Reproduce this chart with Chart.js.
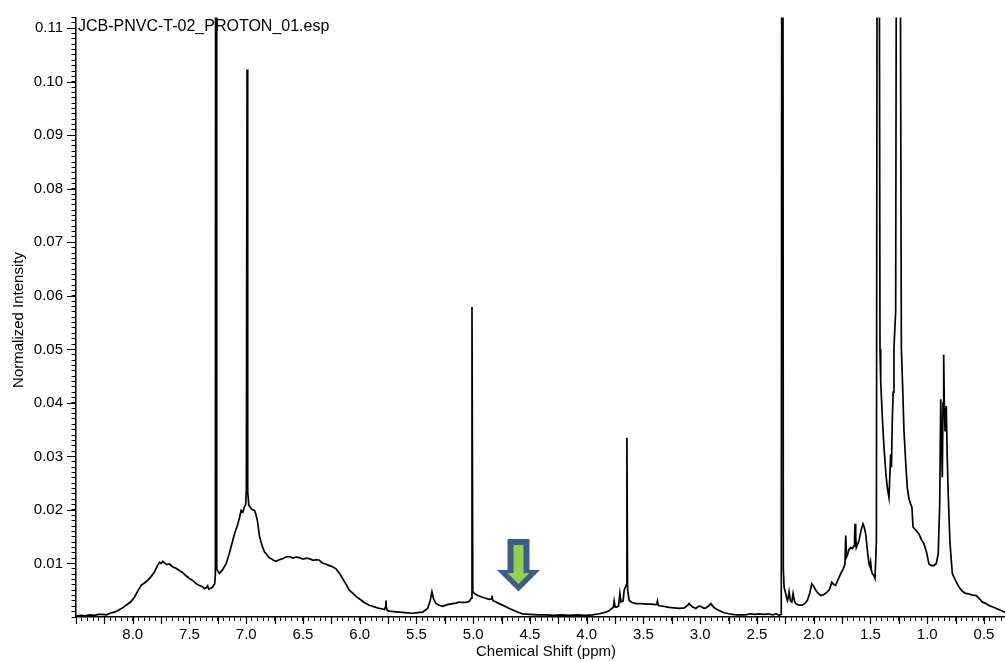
<!DOCTYPE html>
<html>
<head>
<meta charset="utf-8">
<title>JCB-PNVC-T-02_PROTON_01</title>
<script src="https://cdn.jsdelivr.net/npm/chart.js@4.4.1/dist/chart.umd.min.js"></script>
<style>
    html, body { margin: 0; padding: 0; background: #fff; }
    #wrap { width: 1006px; height: 662px; position: relative; }
</style>
</head>
<body>
<div id="wrap"><canvas id="spectrum"></canvas></div>
<script>
// 1H spectrum: chemical shift (ppm) and normalized intensity, one row per stretch
const shiftPpm = [
    8.498, 8.450, 8.420, 8.380, 8.340, 8.300, 8.267, 8.230, 8.200, 8.161,
    8.140, 8.117, 8.090, 8.058, 8.020, 7.985, 7.960, 7.926, 7.900, 7.871,
    7.840, 7.809, 7.785, 7.765, 7.750, 7.736, 7.720,
    7.700, 7.677, 7.650, 7.620, 7.589, 7.560, 7.530, 7.501, 7.470, 7.440,
    7.413, 7.390, 7.369, 7.350, 7.340, 7.330, 7.310, 7.296, 7.278, 7.272,
    7.266, 7.260, 7.251, 7.237,
    7.210, 7.178, 7.150, 7.119, 7.100, 7.078, 7.060, 7.045, 7.030, 7.016,
    7.005, 6.999, 6.993, 6.987, 6.978, 6.965, 6.950, 6.928, 6.915, 6.902,
    6.884, 6.870, 6.855, 6.840, 6.825, 6.800, 6.781, 6.760, 6.737, 6.710,
    6.679, 6.650, 6.620, 6.590, 6.560, 6.532, 6.500, 6.470, 6.444, 6.410,
    6.380, 6.356, 6.330, 6.300, 6.268, 6.240, 6.209, 6.180, 6.151, 6.120,
    6.092, 6.060, 6.030, 6.004, 5.960, 5.916, 5.870, 5.827, 5.800, 5.781,
    5.772, 5.769, 5.766, 5.757, 5.740, 5.700, 5.652, 5.600, 5.534, 5.490,
    5.446, 5.402, 5.380, 5.364, 5.350, 5.328, 5.300, 5.270, 5.230, 5.182,
    5.150, 5.123, 5.080, 5.035, 5.018, 5.011, 5.004, 4.991, 4.960, 4.918,
    4.890, 4.859, 4.840, 4.835, 4.828, 4.800, 4.771, 4.730, 4.682, 4.640,
    4.594, 4.566,
    4.500, 4.430, 4.360, 4.290, 4.220, 4.155, 4.080, 4.010, 3.949, 3.890,
    3.831, 3.800, 3.785, 3.766, 3.758, 3.750, 3.741, 3.720, 3.708, 3.698,
    3.680, 3.670, 3.652, 3.646, 3.640, 3.626, 3.600, 3.567,
    3.520, 3.470, 3.430, 3.391, 3.384, 3.377, 3.370, 3.362, 3.320, 3.274,
    3.230, 3.186, 3.140, 3.110, 3.098, 3.070, 3.039, 3.015, 2.995, 2.975,
    2.957, 2.930, 2.907, 2.880, 2.860, 2.834, 2.790, 2.750, 2.717, 2.680,
    2.640, 2.600, 2.560, 2.520, 2.481, 2.440, 2.400, 2.364, 2.330, 2.305,
    2.286, 2.276, 2.268, 2.261, 2.245, 2.232, 2.224, 2.217, 2.205, 2.193,
    2.182, 2.170, 2.158, 2.130, 2.100, 2.075, 2.056, 2.035, 2.017, 2.000,
    1.982, 1.960, 1.938, 1.910, 1.880, 1.860, 1.841, 1.825, 1.807, 1.785,
    1.762, 1.740, 1.725, 1.718, 1.711, 1.704, 1.690, 1.675, 1.660, 1.645,
    1.640, 1.636, 1.630, 1.625, 1.601, 1.585, 1.566, 1.555, 1.542, 1.525,
    1.513, 1.506, 1.499, 1.492, 1.484, 1.472, 1.460,
    1.448, 1.440, 1.431, 1.424, 1.416, 1.410, 1.395, 1.381, 1.365, 1.352,
    1.337, 1.322, 1.315, 1.308, 1.300, 1.293, 1.285, 1.278, 1.270, 1.255,
    1.240, 1.228, 1.215, 1.205, 1.190, 1.176, 1.160, 1.146, 1.135, 1.125,
    1.100, 1.073, 1.050, 1.029, 1.005, 0.985, 0.960, 0.941, 0.920, 0.903,
    0.890, 0.881, 0.874, 0.867, 0.861, 0.855, 0.849, 0.843, 0.837, 0.832,
    0.824, 0.814, 0.800, 0.779, 0.750, 0.720, 0.690, 0.662, 0.630, 0.600,
    0.568, 0.540, 0.515, 0.490, 0.460, 0.427, 0.390, 0.350, 0.315
];
const intensity = [
    0.0002, 0.0003, 0.0002, 0.0004, 0.0003, 0.0005, 0.0005, 0.0004, 0.0007, 0.0009,
    0.0011, 0.0014, 0.0017, 0.0022, 0.0028, 0.0037, 0.0047, 0.0059, 0.0063, 0.0068,
    0.0075, 0.0084, 0.0095, 0.0102, 0.0100, 0.0104, 0.0101,
    0.0098, 0.0099, 0.0094, 0.0091, 0.0087, 0.0083, 0.0077, 0.0072, 0.0068, 0.0062,
    0.0059, 0.0057, 0.0053, 0.0055, 0.0058, 0.0052, 0.0054, 0.0056, 0.0062, 0.0080,
    0.3500, 0.0090, 0.0086, 0.0081,
    0.0088, 0.0099, 0.0118, 0.0143, 0.0158, 0.0171, 0.0185, 0.0199, 0.0196, 0.0206,
    0.0210, 0.0240, 0.1023, 0.0235, 0.0209, 0.0205, 0.0201, 0.0199, 0.0192, 0.0180,
    0.0152, 0.0140, 0.0130, 0.0122, 0.0118, 0.0111, 0.0109, 0.0106, 0.0104, 0.0107,
    0.0109, 0.0112, 0.0113, 0.0110, 0.0112, 0.0111, 0.0108, 0.0110, 0.0109, 0.0106,
    0.0107, 0.0106, 0.0101, 0.0099, 0.0096, 0.0094, 0.0090, 0.0082, 0.0072, 0.0061,
    0.0050, 0.0044, 0.0038, 0.0034, 0.0027, 0.0022, 0.0019, 0.0016, 0.0015, 0.0014,
    0.0020, 0.0031, 0.0018, 0.0012, 0.0011, 0.0010, 0.0009, 0.0008, 0.0007, 0.0008,
    0.0009, 0.0016, 0.0030, 0.0047, 0.0034, 0.0025, 0.0022, 0.0020, 0.0023, 0.0025,
    0.0026, 0.0028, 0.0027, 0.0029, 0.0035, 0.0579, 0.0048, 0.0044, 0.0040, 0.0037,
    0.0035, 0.0033, 0.0034, 0.0040, 0.0031, 0.0028, 0.0025, 0.0021, 0.0016, 0.0012,
    0.0008, 0.0006,
    0.0005, 0.0004, 0.0004, 0.0003, 0.0004, 0.0003, 0.0004, 0.0003, 0.0004, 0.0006,
    0.0009, 0.0012, 0.0015, 0.0018, 0.0030, 0.0019, 0.0018, 0.0020, 0.0044, 0.0028,
    0.0030, 0.0050, 0.0060, 0.0335, 0.0050, 0.0031, 0.0027, 0.0025,
    0.0025, 0.0024, 0.0024, 0.0023, 0.0024, 0.0030, 0.0022, 0.0021, 0.0020, 0.0018,
    0.0017, 0.0016, 0.0017, 0.0022, 0.0025, 0.0019, 0.0016, 0.0020, 0.0020, 0.0017,
    0.0016, 0.0020, 0.0025, 0.0018, 0.0015, 0.0012, 0.0008, 0.0006, 0.0005, 0.0004,
    0.0004, 0.0004, 0.0006, 0.0005, 0.0006, 0.0005, 0.0006, 0.0004, 0.0006, 0.0003,
    0.0005, 0.3000, 0.0090, 0.0056, 0.0042, 0.0031, 0.0036, 0.0047, 0.0030, 0.0028,
    0.0044, 0.0030, 0.0025, 0.0022, 0.0022, 0.0026, 0.0031, 0.0045, 0.0062, 0.0057,
    0.0050, 0.0044, 0.0040, 0.0042, 0.0047, 0.0052, 0.0065, 0.0061, 0.0059, 0.0070,
    0.0081, 0.0090, 0.0099, 0.0152, 0.0112, 0.0115, 0.0126, 0.0130, 0.0128, 0.0133,
    0.0150, 0.0174, 0.0150, 0.0130, 0.0143, 0.0160, 0.0174, 0.0168, 0.0155, 0.0120,
    0.0099, 0.0095, 0.0103, 0.0088, 0.0081, 0.0078, 0.0072,
    0.0140, 0.1500, 0.4000, 0.1500, 0.0500, 0.0441, 0.0370, 0.0317, 0.0270, 0.0242,
    0.0223, 0.0304, 0.0280, 0.0366, 0.0420, 0.0503, 0.0540, 0.0571, 0.1500, 1.0000,
    0.1500, 0.0503, 0.0420, 0.0348, 0.0290, 0.0242, 0.0220, 0.0211, 0.0205, 0.0168,
    0.0162, 0.0155, 0.0144, 0.0137, 0.0120, 0.0099, 0.0096, 0.0096, 0.0100, 0.0118,
    0.0211, 0.0407, 0.0330, 0.0261, 0.0400, 0.0490, 0.0390, 0.0348, 0.0380, 0.0394,
    0.0300, 0.0223, 0.0140, 0.0081, 0.0068, 0.0056, 0.0048, 0.0044, 0.0043, 0.0041,
    0.0040, 0.0034, 0.0028, 0.0026, 0.0022, 0.0019, 0.0016, 0.0012, 0.0009
];

const xTickLabels = ['8.0', '7.5', '7.0', '6.5', '6.0', '5.5', '5.0', '4.5',
    '4.0', '3.5', '3.0', '2.5', '2.0', '1.5', '1.0', '0.5'];
const yTickLabels = ['0.01', '0.02', '0.03', '0.04', '0.05', '0.06',
    '0.07', '0.08', '0.09', '0.10', '0.11'];

const fileName = 'JCB-PNVC-T-02_PROTON_01.esp';
const FONT = '"Liberation Sans", Arial, sans-serif';

// only the listed ticks get a label, the rest stay as minor marks
function tickText(value, decimals, list) {
    const text = value.toFixed(decimals);
    return list.includes(text) && Math.abs(value - Number(text)) < 1e-9 ? text : '';
}

function arrowPath(ctx, cx, shaftHalf, headHalf, top, neck, tip) {
    ctx.beginPath();
    ctx.moveTo(cx - shaftHalf, top);
    ctx.lineTo(cx + shaftHalf, top);
    ctx.lineTo(cx + shaftHalf, neck);
    ctx.lineTo(cx + headHalf, neck);
    ctx.lineTo(cx, tip);
    ctx.lineTo(cx - headHalf, neck);
    ctx.lineTo(cx - shaftHalf, neck);
    ctx.closePath();
}

// long ticks, axis titles, file name and the marker arrow
const decorations = {
    id: 'decorations',
    afterDraw(chart) {
        const { ctx, chartArea, scales: { x, y } } = chart;
        ctx.save();
        ctx.strokeStyle = '#000';
        ctx.lineWidth = 1.2;
        ctx.beginPath();
        for (let i = 2; i <= 34; i++) {
            const px = Math.round(x.getPixelForValue(i * 0.25)) + 0.5;
            ctx.moveTo(px, chartArea.bottom);
            ctx.lineTo(px, chartArea.bottom + 7);
        }
        for (let i = 1; i <= 11; i++) {
            const py = Math.round(y.getPixelForValue(i / 100)) + 0.5;
            ctx.moveTo(chartArea.left, py);
            ctx.lineTo(chartArea.left - 9, py);
        }
        ctx.stroke();

        ctx.fillStyle = '#000';
        ctx.font = '16px ' + FONT;
        ctx.textAlign = 'left';
        ctx.textBaseline = 'alphabetic';
        ctx.fillText(fileName, 78, 31);

        ctx.font = '15px ' + FONT;
        ctx.textAlign = 'center';
        ctx.fillText('Chemical Shift (ppm)', 546, 656);

        ctx.translate(22.5, 320);
        ctx.rotate(-Math.PI / 2);
        ctx.fillText('Normalized Intensity', 0, 0);
        ctx.setTransform(1, 0, 0, 1, 0, 0);

        arrowPath(ctx, 518.5, 11, 21.5, 539, 570, 591.5);
        ctx.fillStyle = '#3e5c87';
        ctx.fill();
        arrowPath(ctx, 518.5, 5, 11, 545, 573, 584);
        ctx.fillStyle = '#92d050';
        ctx.fill();
        ctx.restore();
    }
};

new Chart(document.getElementById('spectrum'), {
    type: 'scatter',
    data: {
        datasets: [{
            data: shiftPpm.map((ppm, i) => ({ x: ppm, y: intensity[i] })),
            showLine: true,
            borderColor: '#000',
            borderWidth: 1.7,
            pointRadius: 0,
            tension: 0
        }]
    },
    options: {
        responsive: true,
        maintainAspectRatio: false,
        animation: false,
        layout: { padding: { top: 15, right: 0, left: 0, bottom: 0 } },
        plugins: {
            legend: { display: false },
            tooltip: { enabled: false }
        },
        scales: {
            x: {
                type: 'linear',
                reverse: true,
                min: 0.315,
                max: 8.5,
                afterFit(scale) { scale.height = 45; },
                border: { display: true, color: '#000', width: 1.5 },
                grid: { drawOnChartArea: false, color: '#000', tickLength: 4, tickWidth: 1 },
                ticks: {
                    stepSize: 0.05,
                    includeBounds: false,
                    autoSkip: false,
                    maxRotation: 0,
                    padding: 5,
                    color: '#000',
                    font: { family: FONT, size: 15 },
                    callback: value => tickText(value, 1, xTickLabels)
                }
            },
            y: {
                min: 0,
                max: 0.112,
                afterFit(scale) { scale.width = 76; },
                border: { display: true, color: '#000', width: 1.5 },
                grid: { drawOnChartArea: false, color: '#000', tickLength: 4.5, tickWidth: 1 },
                ticks: {
                    stepSize: 0.001,
                    includeBounds: false,
                    autoSkip: false,
                    padding: 8.5,
                    color: '#000',
                    font: { family: FONT, size: 15 },
                    callback: value => tickText(value, 2, yTickLabels)
                }
            }
        }
    },
    plugins: [decorations]
});
</script>
</body>
</html>
